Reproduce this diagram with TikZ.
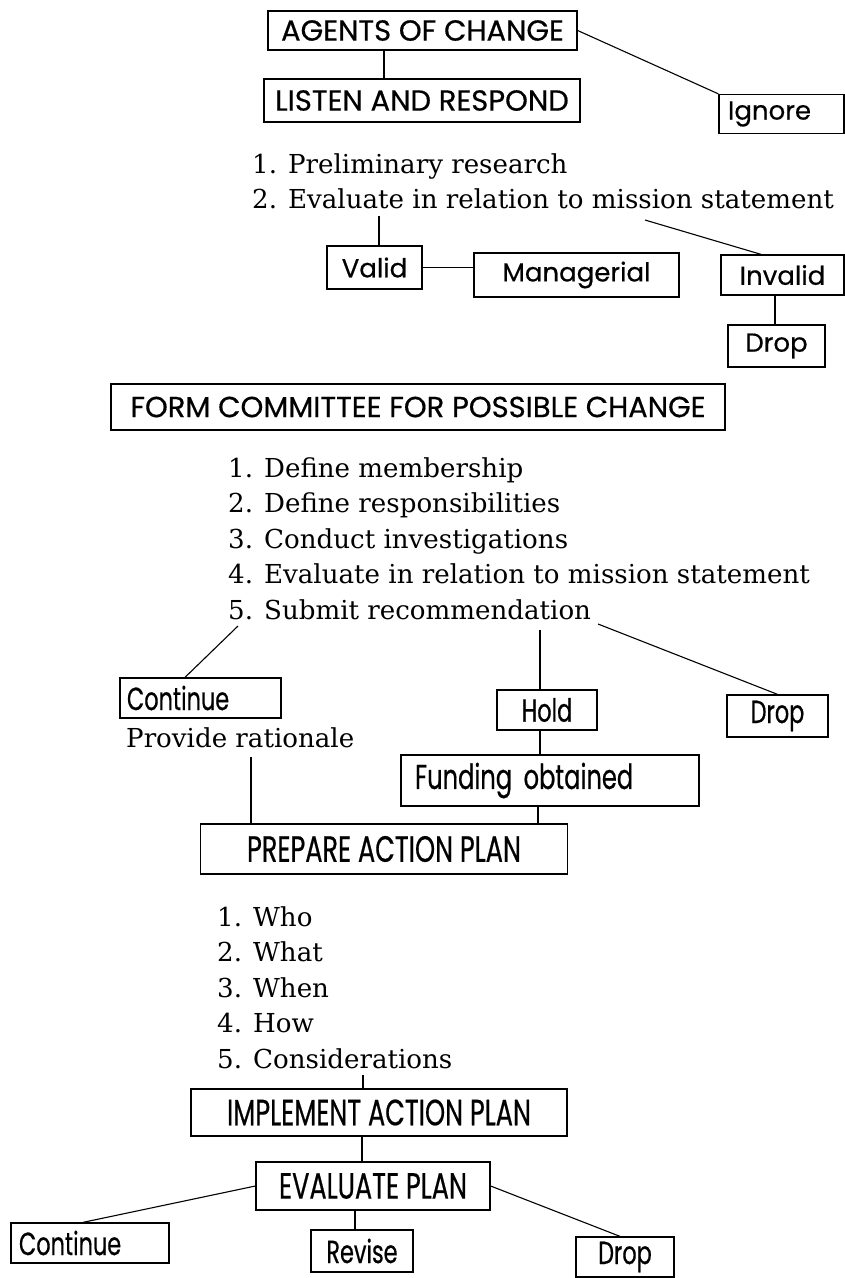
\documentclass[tikz,border=0pt]{standalone}
\usepackage{fontspec}
\usepackage{tikz}
\newfontfamily\gothic[FakeBold=0.5]{Poppins}
\newfontfamily\gothicnarrow[FakeStretch=0.7,FakeBold=0.5]{Poppins}
\newfontfamily\bookfont{DejaVu Serif}

\begin{document}
\begin{tikzpicture}[x=1pt,y=-1pt,
  box/.style={draw,line width=1.3pt,inner sep=0pt},
  titlebox/.style={box,font=\gothic\fontsize{29}{33}\selectfont},
  wordbox/.style={box,font=\gothic\fontsize{26}{30}\selectfont},
  narrowbox/.style={box,font=\gothicnarrow\fontsize{36.5}{40}\selectfont},
  narrowword/.style={box,font=\gothicnarrow\fontsize{32}{36}\selectfont},
  itemlist/.style={align=left,inner sep=0pt,font=\bookfont\fontsize{26.1}{35.5}\selectfont},
  link/.style={line width=1.1pt}]
\useasboundingbox (0,0) rectangle (845,1278);
%agents of change
\node[titlebox,minimum width=309pt,minimum height=39pt] (agents) at (422.5,30.5) {AGENTS OF CHANGE};
\node[titlebox,minimum width=316pt,minimum height=43pt] (listen) at (422,100.5) {LISTEN AND RESPOND};
\node[wordbox,inner xsep=9pt,text width=107pt,align=left,minimum height=39pt] (ignore) at (781.5,114) {Ignore};
\draw[link] ([xshift=-38.5pt]agents.south) -- ([xshift=-38.5pt]agents.south |- listen.north);
\draw[link] (agents.east) -- (ignore.north west);
%research
\node[itemlist,anchor=north west] (research) at (252,153) {1. Preliminary research\\2. Evaluate in relation to mission statement};
\coordinate (evalpt) at (379,216);
\coordinate (stmtpt) at (645,220);
\node[wordbox,minimum width=95pt,minimum height=43pt] (valid) at (374.5,267.5) {Valid};
\node[wordbox,minimum width=205pt,minimum height=44pt] (managerial) at (576.5,275) {Managerial};
\node[wordbox,minimum width=123pt,minimum height=40pt] (invalid) at (782.5,275) {Invalid};
\node[wordbox,minimum width=97pt,minimum height=42pt] (drop1) at (776.5,346) {Drop};
\draw[link] (evalpt) -- (evalpt |- valid.north);
\draw[link] (stmtpt) -- ([xshift=-21.5pt]invalid.north);
\draw[link] (valid.east) -- (valid.east -| managerial.west);
\draw[link] ([xshift=-1.5pt]drop1.north) -- ([xshift=-1.5pt]drop1.north |- invalid.south);
%committee
\node[titlebox,minimum width=614pt,minimum height=46pt] (committee) at (418,407) {FORM COMMITTEE FOR POSSIBLE CHANGE};
\node[itemlist,anchor=north west] (duties) at (228,457) {1. Define membership\\2. Define responsibilities\\3. Conduct investigations\\4. Evaluate in relation to mission statement\\5. Submit recommendation};
\coordinate (submitpt) at (238,626);
\coordinate (holdpt) at (540,630);
\coordinate (droppt) at (598,624);
\node[narrowword,inner xsep=7pt,text width=147pt,align=left,minimum height=40pt] (continue1) at (200.5,698) {Continue};
\node[narrowword,minimum width=100pt,minimum height=40pt] (hold) at (547,710) {Hold};
\node[narrowword,minimum width=101pt,minimum height=42pt] (drop2) at (777.5,716) {Drop};
\node[itemlist,anchor=base west] (rationale) at (126,747) {Provide rationale};
\coordinate (rationalept) at (251,757);
\node[narrowword,font=\gothicnarrow\fontsize{34.5}{38}\selectfont,inner xsep=14pt,text width=270pt,align=left,minimum height=51pt] (funding) at (550,780.5) {Funding obtained};
\draw[link] (submitpt) -- ([xshift=-15.5pt]continue1.north);
\draw[link] (holdpt) -- (holdpt |- hold.north);
\draw[link] (droppt) -- (drop2.north);
\draw[link] (holdpt |- hold.south) -- (holdpt |- funding.north);
%action plan
\node[narrowbox,minimum width=367pt,minimum height=50pt] (prepare) at (384,849) {PREPARE ACTION PLAN};
\draw[link] (rationalept) -- (rationalept |- prepare.north);
\draw[link] ([xshift=-12pt]funding.south) -- ([xshift=-12pt]funding.south |- prepare.north);
\node[itemlist,anchor=north west] (steps) at (217,906) {1. Who\\2. What\\3. When\\4. How\\5. Considerations};
\coordinate (considerpt) at (363,1075);
\node[narrowbox,minimum width=376pt,minimum height=47pt] (implement) at (379,1112.5) {IMPLEMENT ACTION PLAN};
\node[narrowbox,minimum width=234pt,minimum height=48pt] (evaluate) at (373,1186) {EVALUATE PLAN};
\draw[link] (considerpt) -- (considerpt |- implement.north);
\draw[link] ([xshift=-17pt]implement.south) -- ([xshift=-17pt]implement.south |- evaluate.north);
%evaluation
\node[narrowword,inner xsep=8pt,text width=142pt,align=left,minimum height=40pt] (continue2) at (90,1243) {Continue};
\node[narrowword,minimum width=102pt,minimum height=42pt] (revise) at (362,1251) {Revise};
\node[narrowword,minimum width=98pt,minimum height=40pt] (drop3) at (625,1257) {Drop};
\draw[link] (evaluate.west) -- ([xshift=-7pt]continue2.north);
\draw[link] ([xshift=-18pt]evaluate.south) -- ([xshift=-18pt]evaluate.south |- revise.north);
\draw[link] (evaluate.east) -- ([xshift=-5pt]drop3.north);
\end{tikzpicture}
\end{document}
